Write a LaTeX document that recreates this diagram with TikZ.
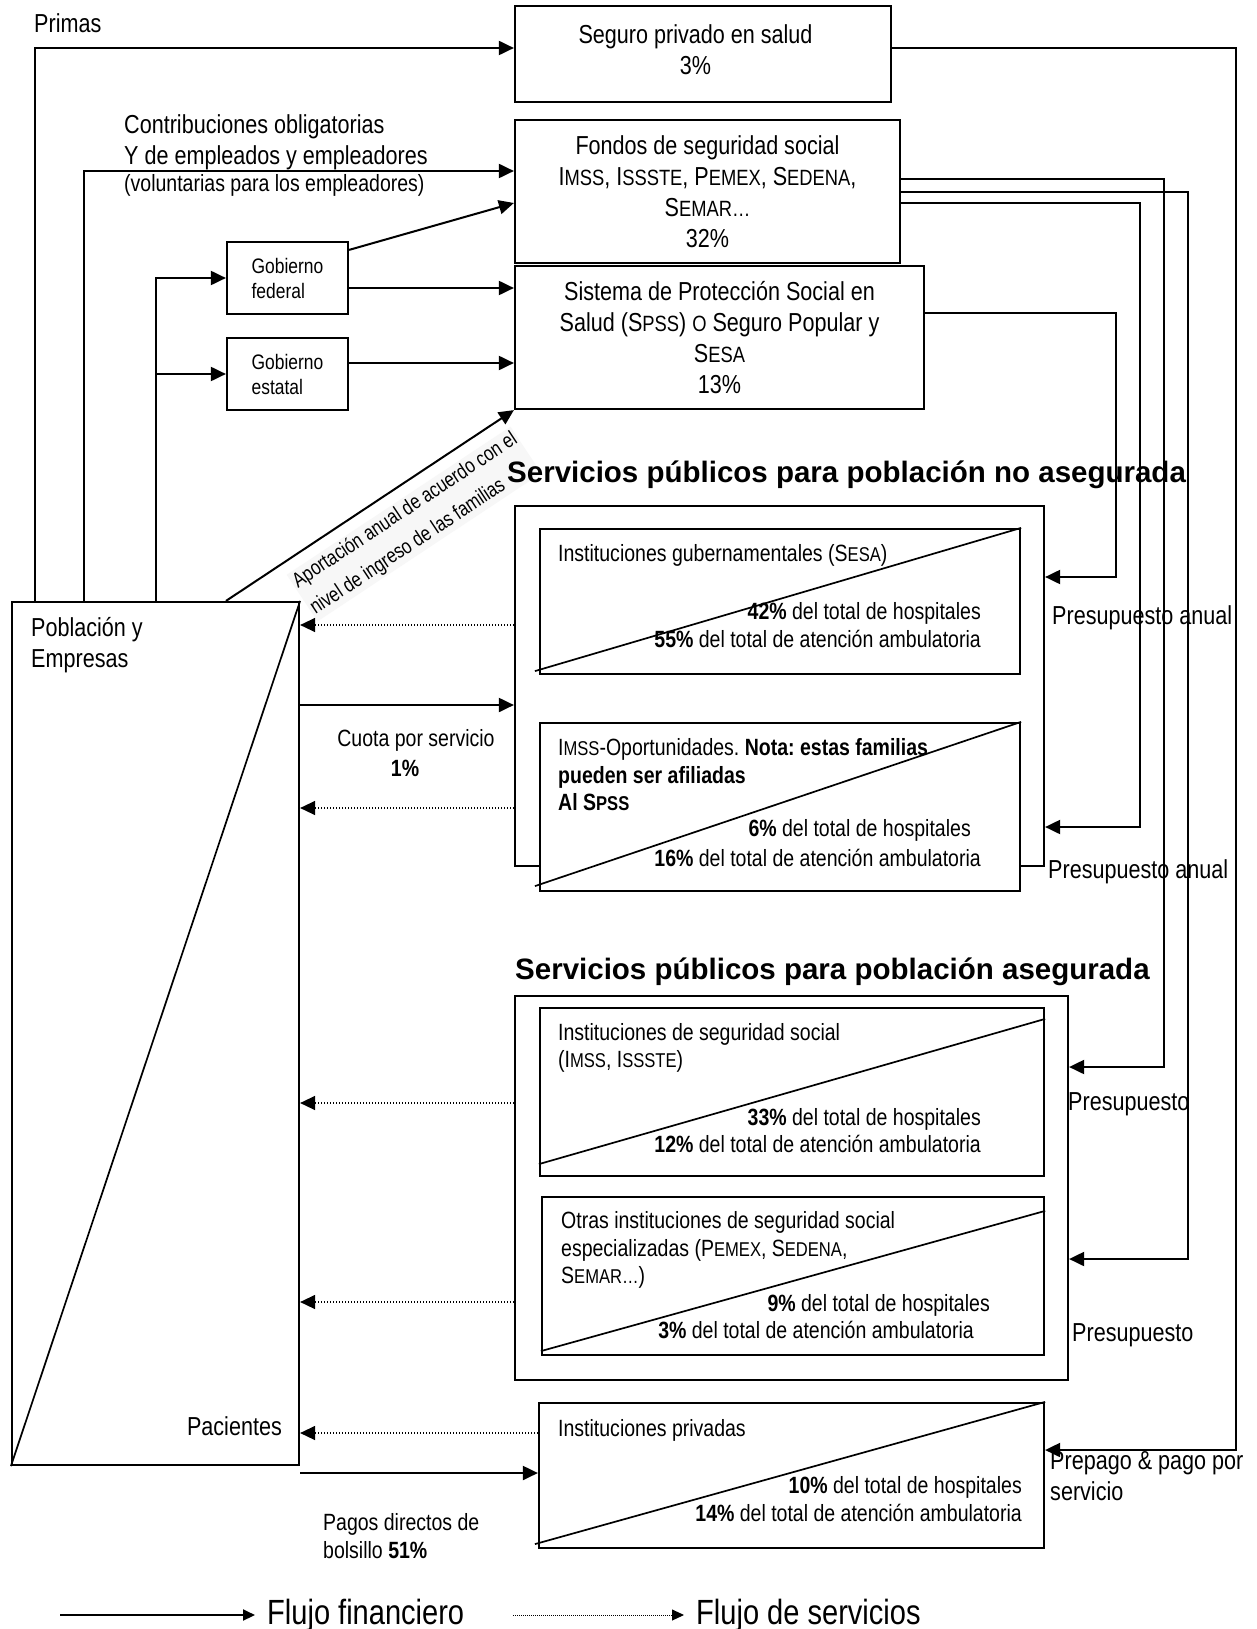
\documentclass[tikz,border=0pt]{standalone}
\usepackage{fontspec}
\setmainfont{Liberation Sans}
\newfontfamily\nar[FakeStretch=0.83]{Liberation Sans}
\newfontfamily\narsc[FakeStretch=0.83,Scale=0.85]{Liberation Sans}
\newfontfamily\apofont[FakeStretch=0.8]{Liberation Sans}
\usetikzlibrary{arrows.meta}
\newcommand\sca[1]{{\narsc #1}}
\newcommand\fbig{\nar\fontsize{26}{31}\selectfont}
\newcommand\fmed{\nar\fontsize{23.5}{27.5}\selectfont}
\newcommand\fgob{\nar\fontsize{21}{25}\selectfont}
\newcommand\fleg{\nar\fontsize{35}{40}\selectfont}
\newcommand\ftitle{\fontsize{29.5}{34}\selectfont\bfseries}
\newcommand\fapo{\apofont\fontsize{21}{32}\selectfont}
\frenchspacing
\begin{document}
\begin{tikzpicture}[x=1pt,y=-1pt,
  box/.style={draw, line width=2.2pt, inner sep=0pt},
  fin/.style={line width=2pt, -{Triangle[length=15pt,width=14pt]}},
  srv/.style={line width=1.4pt, dash pattern=on 1.4pt off 1.6pt, -{Triangle[length=15pt,width=14pt]}},
  legfin/.style={line width=2pt, -{Triangle[length=12pt,width=11pt]}},
  legsrv/.style={line width=1pt, dash pattern=on 1pt off 1pt, -{Triangle[length=12pt,width=11pt]}},
  diag/.style={line width=1.7pt},
  txt/.style={inner sep=0pt}]
\fill[white] (0,0) rectangle (1257,1629);
\useasboundingbox (0,0) rectangle (1257,1629);

% financing boxes
\node[box, minimum width=376pt, minimum height=96pt] (seguro) at (703,54) {};
\node[txt, font=\fbig, align=center] (segurot) at (695.5,50) {Seguro privado en salud\\3\%};
\node[box, minimum width=385pt, minimum height=143pt, font=\fbig, align=center] (fondos) at (707.5,191.5) {Fondos de seguridad social\\I\sca{MSS}, I\sca{SSSTE}, P\sca{EMEX}, S\sca{EDENA},\\S\sca{EMAR…}\\32\%};
\node[box, minimum width=409pt, minimum height=143pt, font=\fbig, align=center] (spss) at (719.5,337.5) {Sistema de Protección Social en\\Salud (S\sca{PSS}) \sca{O} Seguro Popular y\\S\sca{ESA}\\13\%};
\node[box, minimum width=121pt, minimum height=72pt, font=\fgob, align=left] (fed) at (287.5,278) {Gobierno\\federal};
\node[box, minimum width=121pt, minimum height=72pt, font=\fgob, align=left] (est) at (287.5,374) {Gobierno\\estatal};

% population
\node[box, minimum width=287pt, minimum height=863pt] (pop) at (155.5,1033.5) {};
\draw[diag] (pop.north east) -- (pop.south west);
\node[txt, font=\fbig, align=left, anchor=west] (poptxt) at (31,645) {Población y\\Empresas};
\node[txt, font=\fbig, anchor=east] (pac) at (282,1426) {Pacientes};

% annual contribution label (drawn under the title)
\draw[fin] (pop.north -| 226,0) -- (spss.south west);
\node[txt, font=\fapo, align=left, rotate=33.5, fill=black!3, inner sep=2pt] (apo) at (414,524) {Aportación anual de acuerdo con el\\nivel de ingreso de las familias};

% service boxes
\node[box, minimum width=529pt, minimum height=360pt] (outer1) at (779.5,686) {};
\node[box, minimum width=480pt, minimum height=145pt] (in1) at (780,601.5) {};
\node[box, fill=white, minimum width=480pt, minimum height=168pt] (in2) at (780,807) {};
\node[box, minimum width=553pt, minimum height=384pt] (outer2) at (791.5,1188) {};
\node[box, minimum width=504pt, minimum height=168pt] (in3) at (792,1092) {};
\node[box, minimum width=502pt, minimum height=158pt] (in4) at (793,1276) {};
\node[box, minimum width=505pt, minimum height=145pt] (priv) at (791.5,1475.5) {};

\draw[diag] ([xshift=-4pt,yshift=4pt]in1.south west) -- (in1.north east);
\draw[diag] ([xshift=-4pt,yshift=6pt]in2.south west) -- (in2.north east);
\draw[diag] ([yshift=13pt]in3.south west) -- ([yshift=-12pt]in3.north east);
\draw[diag] ([yshift=5pt]in4.south west) -- ([yshift=-15pt]in4.north east);
\draw[diag] ([xshift=-3pt,yshift=5pt]priv.south west) -- (priv.north east);

% titles
\node[txt, font=\ftitle, anchor=west] (t1) at (507,475) {Servicios públicos para población no asegurada};
\node[txt, font=\ftitle, anchor=west] (t2) at (515,972) {Servicios públicos para población asegurada};

% texts in service boxes
\node[txt, font=\fmed, anchor=west] (in1a) at (558,555) {Instituciones gubernamentales (S\sca{ESA})};
\node[txt, font=\fmed, anchor=east, align=right] (in1b) at (981,625) {\textbf{42\%} del total de hospitales\\\textbf{55\%} del total de atención ambulatoria};
\node[txt, font=\fmed, anchor=west, align=left] (in2a) at (558,775) {I\sca{MSS}-Oportunidades. \textbf{Nota: estas familias}\\\textbf{pueden ser afiliadas}\\\textbf{Al S\sca{PSS}}};
\node[txt, font=\fmed, anchor=east] (in2b) at (971,830) {\textbf{6\%} del total de hospitales};
\node[txt, font=\fmed, anchor=east] (in2c) at (981,858) {\textbf{16\%} del total de atención ambulatoria};
\node[txt, font=\fmed, anchor=west, align=left] (in3a) at (558,1048) {Instituciones de seguridad social\\(I\sca{MSS}, I\sca{SSSTE})};
\node[txt, font=\fmed, anchor=east, align=right] (in3b) at (981,1130.5) {\textbf{33\%} del total de hospitales\\\textbf{12\%} del total de atención ambulatoria};
\node[txt, font=\fmed, anchor=west, align=left] (in4a) at (561,1250) {Otras instituciones de seguridad social\\especializadas (P\sca{EMEX}, S\sca{EDENA},\\S\sca{EMAR…})};
\node[txt, font=\fmed, anchor=east] (in4b) at (990,1305) {\textbf{9\%} del total de hospitales};
\node[txt, font=\fmed, anchor=east] (in4c) at (974,1330) {\textbf{3\%} del total de atención ambulatoria};
\node[txt, font=\fmed, anchor=west] (priva) at (558,1430) {Instituciones privadas};
\node[txt, font=\fmed, anchor=east, align=right] (privb) at (1022,1499) {\textbf{10\%} del total de hospitales\\\textbf{14\%} del total de atención ambulatoria};

% labels
\node[txt, font=\fbig, anchor=west] (primas) at (34,23) {Primas};
\node[txt, font=\fbig, align=left, anchor=west] (contrib) at (124,142) {Contribuciones obligatorias\\Y de empleados y empleadores};
\node[txt, font=\fmed, anchor=west] (volunt) at (124,185) {(voluntarias para los empleadores)};
\node[txt, font=\fmed] (cuota) at (416,740) {Cuota por servicio};
\node[txt, font=\fmed\bfseries] (uno) at (405,768) {1\%};
\node[txt, font=\fmed, align=left, anchor=west] (pagos) at (323,1536) {Pagos directos de\\bolsillo \textbf{51\%}};
\node[txt, font=\fbig, anchor=west] (pa1) at (1052,618) {Presupuesto anual};
\node[txt, font=\fbig, anchor=west] (pa2) at (1048,872) {Presupuesto anual};
\node[txt, font=\fbig, anchor=west] (pr3) at (1068,1104) {Presupuesto};
\node[txt, font=\fbig, anchor=west] (pr4) at (1072,1335) {Presupuesto};
\node[txt, font=\fbig, align=left, anchor=west] (prep) at (1050,1476) {Prepago \& pago por\\servicio};

% financial flows from population
\draw[fin] (pop.north -| 35,0) |- ([yshift=6pt]seguro.west);
\draw[fin] (pop.north -| 84,0) |- ([yshift=20.5pt]fondos.west);
\coordinate (g) at (pop.north -| 156,0);
\draw[fin] (g) |- (fed.west);
\draw[fin] (g |- est.west) -- (est.west);
\draw[fin] ([yshift=-9pt]fed.north east) -- ([yshift=-11.5pt]fondos.west);
\draw[fin] ([yshift=-10pt]fed.east) -- ([yshift=-10pt]fed.east -| spss.west);
\draw[fin] ([yshift=11pt]est.east) -- ([yshift=11pt]est.east -| spss.west);

% flows between population and services
\draw[srv] ([yshift=61pt]outer1.west) -- ([yshift=61pt]outer1.west -| pop.east);
\draw[fin] ([yshift=-19pt]outer1.west -| pop.east) -- ([yshift=-19pt]outer1.west);
\draw[srv] ([yshift=-122pt]outer1.west) -- ([yshift=-122pt]outer1.west -| pop.east);
\draw[srv] ([yshift=85pt]outer2.west) -- ([yshift=85pt]outer2.west -| pop.east);
\draw[srv] ([yshift=-114pt]outer2.west) -- ([yshift=-114pt]outer2.west -| pop.east);
\draw[srv] ([yshift=42.5pt]priv.west) -- ([yshift=42.5pt]priv.west -| pop.east);
\draw[fin] ([yshift=2.5pt]priv.west -| pop.east) -- ([yshift=2.5pt]priv.west);

% budget flows on the right
\coordinate (r1) at (1236,1450);
\draw[fin] ([yshift=6pt]seguro.east) -| (r1) -- (r1 -| priv.east);
\coordinate (r2) at (1164,1067);
\draw[fin] ([yshift=12.5pt]fondos.east) -| (r2) -- (r2 -| outer2.east);
\coordinate (r3) at (1188,1259);
\draw[fin] ([yshift=-0.5pt]fondos.east) -| (r3) -- (r3 -| outer2.east);
\coordinate (r4) at (1140,827);
\draw[fin] ([yshift=-11.5pt]fondos.east) -| (r4) -- (r4 -| outer1.east);
\coordinate (r5) at (1116,577);
\draw[fin] ([yshift=24.5pt]spss.east) -| (r5) -- (r5 -| outer1.east);

% legend
\node[txt, font=\fleg, anchor=west] (lt1) at (267,1615) {Flujo financiero};
\node[txt, font=\fleg, anchor=west] (lt2) at (696,1615) {Flujo de servicios};
\coordinate (la) at (60,1615);
\coordinate (lc) at (513,1615);
\draw[legfin] (la) -- ([xshift=-12pt]lt1.west);
\draw[legsrv] (lc) -- ([xshift=-12pt]lt2.west);
\end{tikzpicture}
\end{document}
